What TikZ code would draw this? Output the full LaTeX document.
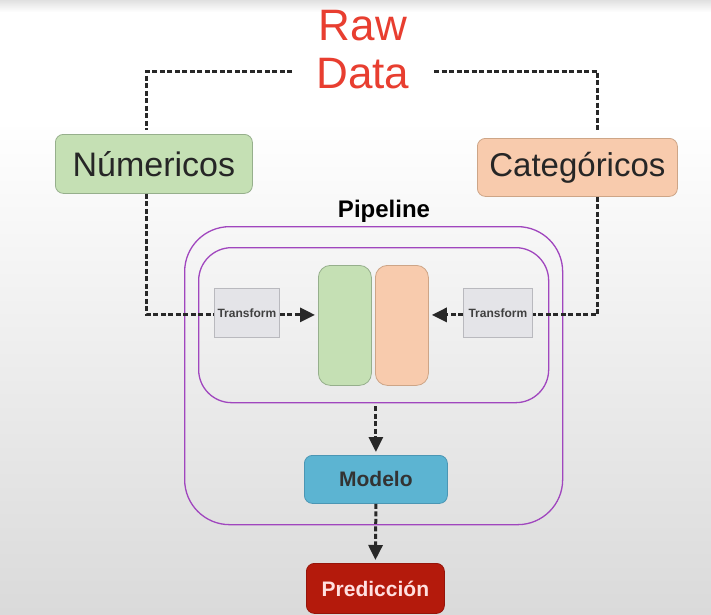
\documentclass[tikz,border=0pt]{standalone}
\usepackage{fontspec}
\setmainfont{Liberation Sans}
\usetikzlibrary{arrows.meta,calc}
\definecolor{rawred}{RGB}{232,62,48}
\definecolor{pipepurple}{RGB}{160,70,190}
\definecolor{numgreen}{RGB}{197,224,180}
\definecolor{numgreenb}{RGB}{150,175,140}
\definecolor{catorange}{RGB}{248,203,173}
\definecolor{catorangeb}{RGB}{205,165,135}
\definecolor{trgray}{RGB}{228,228,232}
\definecolor{trgrayb}{RGB}{185,185,190}
\definecolor{modblue}{RGB}{92,180,210}
\definecolor{modblueb}{RGB}{75,150,180}
\definecolor{predred}{RGB}{180,26,12}
\definecolor{predredb}{RGB}{150,20,10}
\definecolor{linegray}{RGB}{40,40,40}
\definecolor{bgbot}{RGB}{218,218,218}
\tikzset{
  catbox/.style={draw, line width=0.8pt, rounded corners=8pt, inner sep=0pt, anchor=north west, text=black!85},
  trbox/.style={draw=trgrayb, fill=trgray, line width=0.8pt, inner sep=0pt, anchor=north west,
     font=\fontsize{12}{13}\selectfont\bfseries, text=black!75},
  bar/.style={draw, line width=0.8pt, rounded corners=12pt, anchor=north west, inner sep=0pt,
     minimum width=53pt, minimum height=120pt},
  purplebox/.style={draw=pipepurple, line width=1.3pt},
  dashline/.style={draw=linegray, line width=3pt, dash pattern=on 5pt off 2.5pt},
  dasharrow/.style={dashline, -{Triangle[length=15pt,width=14pt]}, shorten >=3pt},
}
\begin{document}
\begin{tikzpicture}[x=1pt,y=-1pt]
\useasboundingbox (0,0) rectangle (711,614);
\shade[top color=white, bottom color=bgbot] (0,120) rectangle (711,614);
\fill[white] (0,0) rectangle (711,120.5);
\shade[top color=black!12, bottom color=white] (0,0) rectangle (711,12);

% Raw data
\node[text=rawred, font=\fontsize{44}{48}\selectfont, align=center] (raw) at (363,50) {Raw\\Data};
\coordinate (rawL) at (292,71);
\coordinate (rawR) at (434,71);

% category boxes
\node[catbox, fill=numgreen, draw=numgreenb, minimum width=197pt, minimum height=59pt,
      font=\fontsize{34}{36}\selectfont] (num) at (55,134) {Númericos};
\node[catbox, fill=catorange, draw=catorangeb, minimum width=200pt, minimum height=58pt,
      font=\fontsize{33}{36}\selectfont] (cat) at (477,138) {Categóricos};

% pipeline
\node[font=\fontsize{24}{26}\selectfont\bfseries] (pipetitle) at (384,211) {Pipeline};
\node[purplebox, rounded corners=45pt, inner sep=0pt, anchor=north west,
      minimum width=378pt, minimum height=298pt] (outer) at (184,226) {};
\node[purplebox, rounded corners=33pt, inner sep=0pt, anchor=north west,
      minimum width=350pt, minimum height=155pt] (inner) at (198,247) {};

\node[trbox, minimum width=65pt, minimum height=49pt] (tl) at (214,288) {Transform};
\node[trbox, minimum width=69pt, minimum height=49pt] (tr) at (463,288) {Transform};

\node[bar, fill=numgreen, draw=numgreenb] (gbar) at (318,265) {};
\node[bar, fill=catorange, draw=catorangeb] (obar) at (375,265) {};

\node[draw=modblueb, fill=modblue, line width=0.8pt, rounded corners=8pt, anchor=north west,
      minimum width=143pt, minimum height=48pt, inner sep=0pt,
      font=\fontsize{21}{23}\selectfont\bfseries, text=black!80] (mod) at (304,455) {Modelo};
\node[draw=predredb, fill=predred, line width=0.8pt, rounded corners=8pt, anchor=north west,
      minimum width=138pt, minimum height=50pt, inner sep=0pt,
      font=\fontsize{21}{23}\selectfont\bfseries, text=white!88!red] (pred) at (306,563) {Predicción};

% connectors
\draw[dashline] (rawL) -| ([xshift=-7pt, yshift=4pt]num.north);
\draw[dashline] (rawR) -| ([xshift=20pt, yshift=8pt]cat.north);
\draw[dashline] ([xshift=-7pt]num.south) |- ([yshift=-2pt]tl.west);
\draw[dashline] ([xshift=20pt]cat.south) |- ([yshift=-2pt]tr.east);
\draw[dasharrow] ([yshift=-2pt]tl.east) -- ([yshift=-2pt]tl.east -| gbar.west);
\draw[dasharrow] ([yshift=-2pt]tr.west) -- ([yshift=-2pt]tr.west -| obar.east);
\draw[dasharrow, shorten <=3pt] (inner.south -| mod.north) -- (mod.north);
\draw[dasharrow] (mod.south) -- (pred.north);
\end{tikzpicture}
\end{document}
